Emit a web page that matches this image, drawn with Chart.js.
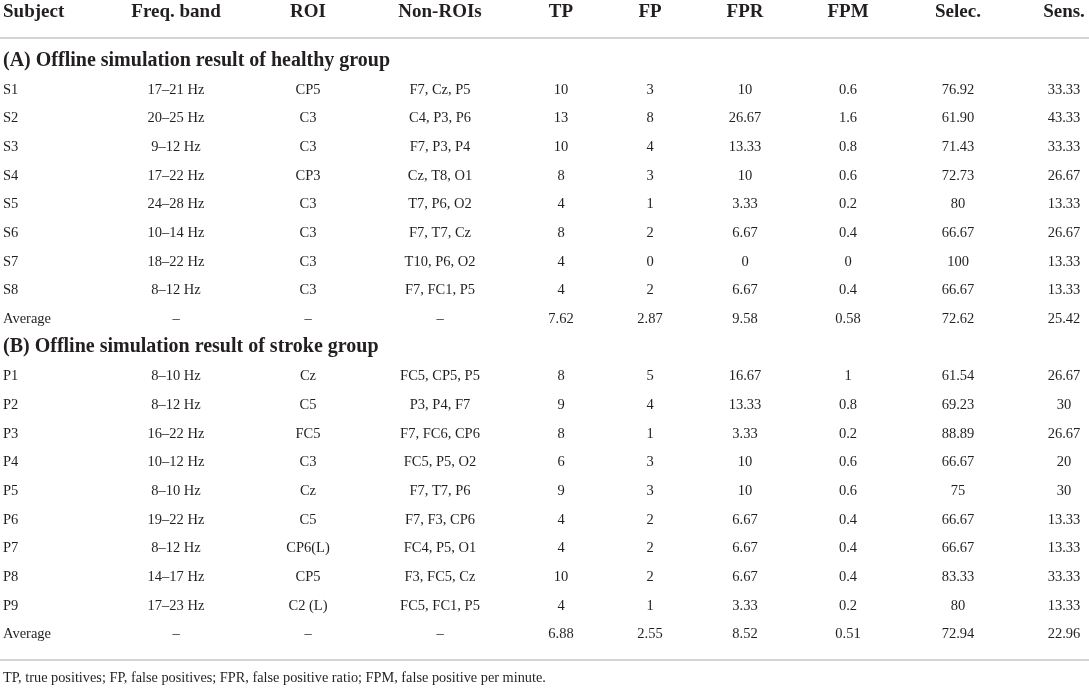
<!DOCTYPE html>
<html lang="en">
<head>
    <meta charset="UTF-8">
    <title>Offline simulation results</title>
    <script src="https://cdn.jsdelivr.net/npm/chart.js"></script>
    <style>
        html, body { margin: 0; padding: 0; background: #fff; }
        .wrap { width: 1089px; height: 688px; position: relative; }
    </style>
</head>
<body>
<div class="wrap">
    <canvas id="myChart"></canvas>
</div>

<script type="text/javascript">
    // column headers
    var headers = ['Subject', 'Freq. band', 'ROI', 'Non-ROIs', 'TP', 'FP', 'FPR', 'FPM', 'Selec.', 'Sens.'];

    // (A) healthy group
    var healthyTitle = '(A) Offline simulation result of healthy group';
    var healthySubject = ['S1', 'S2', 'S3', 'S4', 'S5', 'S6', 'S7', 'S8'];
    var healthyFreq = ['17–21 Hz', '20–25 Hz', '9–12 Hz', '17–22 Hz', '24–28 Hz', '10–14 Hz', '18–22 Hz', '8–12 Hz'];
    var healthyRoi = ['CP5', 'C3', 'C3', 'CP3', 'C3', 'C3', 'C3', 'C3'];
    var healthyNonRoi = ['F7, Cz, P5', 'C4, P3, P6', 'F7, P3, P4', 'Cz, T8, O1', 'T7, P6, O2', 'F7, T7, Cz', 'T10, P6, O2', 'F7, FC1, P5'];
    var healthyTP = ['10', '13', '10', '8', '4', '8', '4', '4'];
    var healthyFP = ['3', '8', '4', '3', '1', '2', '0', '2'];
    var healthyFPR = ['10', '26.67', '13.33', '10', '3.33', '6.67', '0', '6.67'];
    var healthyFPM = ['0.6', '1.6', '0.8', '0.6', '0.2', '0.4', '0', '0.4'];
    var healthySelec = ['76.92', '61.90', '71.43', '72.73', '80', '66.67', '100', '66.67'];
    var healthySens = ['33.33', '43.33', '33.33', '26.67', '13.33', '26.67', '13.33', '13.33'];
    var healthyAverage = ['Average', '–', '–', '–', '7.62', '2.87', '9.58', '0.58', '72.62', '25.42'];

    // (B) stroke group
    var strokeTitle = '(B) Offline simulation result of stroke group';
    var strokeSubject = ['P1', 'P2', 'P3', 'P4', 'P5', 'P6', 'P7', 'P8', 'P9'];
    var strokeFreq = ['8–10 Hz', '8–12 Hz', '16–22 Hz', '10–12 Hz', '8–10 Hz', '19–22 Hz', '8–12 Hz', '14–17 Hz', '17–23 Hz'];
    var strokeRoi = ['Cz', 'C5', 'FC5', 'C3', 'Cz', 'C5', 'CP6(L)', 'CP5', 'C2 (L)'];
    var strokeNonRoi = ['FC5, CP5, P5', 'P3, P4, F7', 'F7, FC6, CP6', 'FC5, P5, O2', 'F7, T7, P6', 'F7, F3, CP6', 'FC4, P5, O1', 'F3, FC5, Cz', 'FC5, FC1, P5'];
    var strokeTP = ['8', '9', '8', '6', '9', '4', '4', '10', '4'];
    var strokeFP = ['5', '4', '1', '3', '3', '2', '2', '2', '1'];
    var strokeFPR = ['16.67', '13.33', '3.33', '10', '10', '6.67', '6.67', '6.67', '3.33'];
    var strokeFPM = ['1', '0.8', '0.2', '0.6', '0.6', '0.4', '0.4', '0.4', '0.2'];
    var strokeSelec = ['61.54', '69.23', '88.89', '66.67', '75', '66.67', '66.67', '83.33', '80'];
    var strokeSens = ['26.67', '30', '26.67', '20', '30', '13.33', '13.33', '33.33', '13.33'];
    var strokeAverage = ['Average', '–', '–', '–', '6.88', '2.55', '8.52', '0.51', '72.94', '22.96'];

    var footnote = 'TP, true positives; FP, false positives; FPR, false positive ratio; FPM, false positive per minute.';

    // layout: column centres on the x scale (subject column is left aligned)
    var colPos = [3, 176, 308, 440, 561, 650, 745, 848, 958, 1064];

    var textColor = '#231f20';
    var ruleColor = '#c4c4c4';
    var fontFamily = '"Liberation Serif", "DejaVu Serif", serif';

    // build table rows from the column arrays
    function groupRows(title, cols, avg) {
        var out = [{ section: true, cells: [title] }];
        for (var i = 0; i < cols[0].length; i++) {
            out.push({ section: false, cells: cols.map(function (c) { return c[i]; }) });
        }
        out.push({ section: false, cells: avg });
        return out;
    }
    var rows = groupRows(healthyTitle,
        [healthySubject, healthyFreq, healthyRoi, healthyNonRoi, healthyTP, healthyFP, healthyFPR, healthyFPM, healthySelec, healthySens],
        healthyAverage)
        .concat(groupRows(strokeTitle,
            [strokeSubject, strokeFreq, strokeRoi, strokeNonRoi, strokeTP, strokeFP, strokeFPR, strokeFPM, strokeSelec, strokeSens],
            strokeAverage));
    var rowLabels = rows.map(function (r) { return r.cells[0]; });

    // draws header, cells, rules and footnote through the chart scales
    var tablePlugin = {
        id: 'tablePlugin',
        afterDraw: function (chart) {
            var ctx = chart.ctx;
            var xs = chart.scales.x;
            var ys = chart.scales.y;
            ctx.save();
            ctx.fillStyle = textColor;
            ctx.textBaseline = 'middle';

            // header row
            ctx.font = 'bold 19px ' + fontFamily;
            headers.forEach(function (h, c) {
                ctx.textAlign = c === 0 ? 'left' : 'center';
                ctx.fillText(h, xs.getPixelForValue(colPos[c]), ys.top - 34);
            });

            // body rows
            rows.forEach(function (row, i) {
                var py = ys.getPixelForValue(i);
                if (row.section) {
                    ctx.font = 'bold 20px ' + fontFamily;
                    ctx.textAlign = 'left';
                    ctx.fillText(row.cells[0], xs.getPixelForValue(colPos[0]), py);
                    return;
                }
                ctx.font = '14.5px ' + fontFamily;
                row.cells.forEach(function (v, c) {
                    ctx.textAlign = c === 0 ? 'left' : 'center';
                    ctx.fillText(v, xs.getPixelForValue(colPos[c]), py + 1);
                });
            });

            // rules
            ctx.strokeStyle = ruleColor;
            ctx.lineWidth = 1.5;
            [ys.top - 8, ys.bottom + 12].forEach(function (ly) {
                ctx.beginPath();
                ctx.moveTo(xs.left, ly);
                ctx.lineTo(xs.right, ly);
                ctx.stroke();
            });

            // footnote
            ctx.font = '14.3px ' + fontFamily;
            ctx.textAlign = 'left';
            ctx.fillText(footnote, xs.getPixelForValue(colPos[0]), ys.bottom + 30);
            ctx.restore();
        }
    };

    var ctx = document.querySelector('#myChart');
    new Chart(ctx, {
        type: 'bar',
        data: {
            labels: rowLabels,
            datasets: [{ data: [] }]
        },
        options: {
            indexAxis: 'y',
            responsive: true,
            maintainAspectRatio: false,
            animation: false,
            events: [],
            layout: { padding: { top: 46, bottom: 40, left: 0, right: 0 } },
            plugins: {
                legend: { display: false },
                tooltip: { enabled: false }
            },
            scales: {
                x: { type: 'linear', min: 0, max: 1089, display: false },
                y: { type: 'category', offset: true, display: false }
            }
        },
        plugins: [tablePlugin]
    });
</script>
</body>
</html>
